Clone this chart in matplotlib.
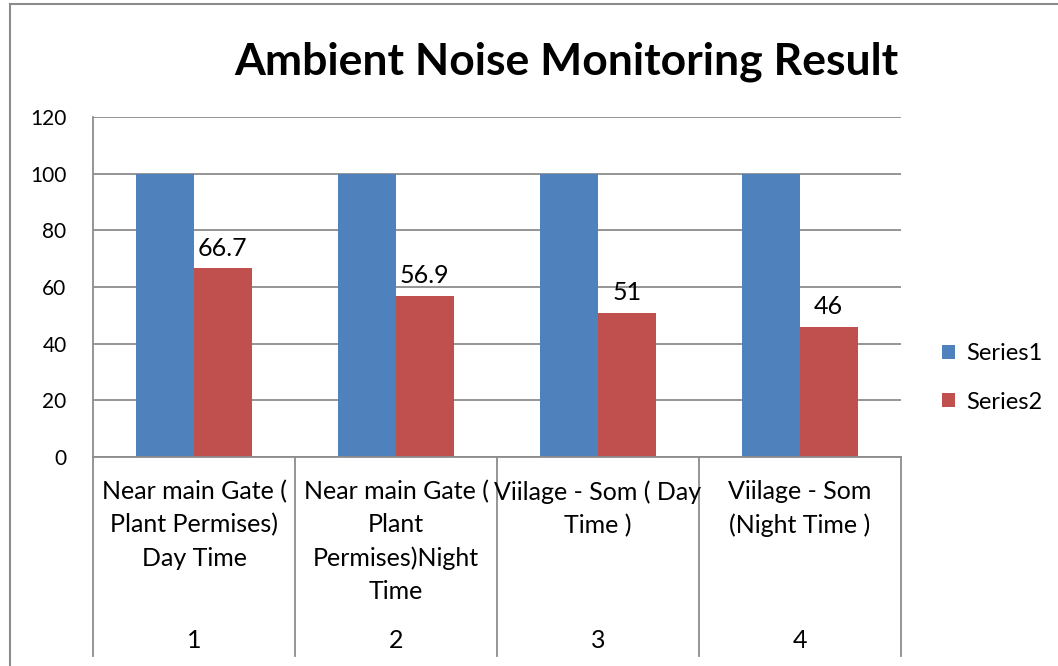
import numpy as np
import matplotlib.pyplot as plt
from matplotlib.lines import Line2D

plt.rcParams['font.family'] = ['Lato', 'DejaVu Sans']

categories = ["Near main Gate (\nPlant Permises)\nDay Time",
              "Near main Gate (\nPlant\nPermises)Night\nTime",
              "Viilage - Som ( Day\nTime )",
              "Viilage - Som\n(Night Time )"]
numbers = ["1", "2", "3", "4"]
series1 = [100, 100, 100, 100]
series2 = [66.7, 56.9, 51, 46]
series2_labels = ["66.7", "56.9", "51", "46"]

blue = '#4F81BD'
red = '#C0504D'
grey = '#8C8C8C'

W, H = 1058, 666
fig = plt.figure(figsize=(W / 100, H / 100), dpi=100)
ax = fig.add_axes([93 / W, 1 - 457 / H, (901 - 93) / W, (457 - 117) / H])

x = np.arange(len(categories))
bw = 0.285
b1 = ax.bar(x - bw / 2, series1, bw, color=blue, zorder=2)
b2 = ax.bar(x + bw / 2, series2, bw, color=red, zorder=2)
for rect, lab in zip(b2, series2_labels):
    ax.text(rect.get_x() + rect.get_width() / 2, rect.get_height() + 3, lab,
            ha='center', va='bottom', fontsize=18)

ax.set_xlim(-0.5, len(categories) - 0.5)
ax.set_ylim(0, 120)
ax.set_yticks(range(0, 121, 20))
ax.yaxis.grid(True, color=grey, lw=1.3, zorder=0)
ax.set_xticks([])
ax.tick_params(axis='y', length=0, pad=19, labelsize=15)
for s in ['top', 'right']:
    ax.spines[s].set_visible(False)
for s in ['left', 'bottom']:
    ax.spines[s].set_color(grey)
    ax.spines[s].set_linewidth(1.3)

# category table below the axis
depth = -(656 - 457) / (457 - 117)
trans = ax.get_xaxis_transform()
for b in np.arange(-0.5, len(categories), 1.0):
    ax.add_line(Line2D([b, b], [0, depth], transform=trans, color=grey,
                       lw=1.3, clip_on=False))
for i, (cat, num) in enumerate(zip(categories, numbers)):
    ax.text(i, -(480 - 457) / 340, cat, transform=trans, ha='center', va='top',
            fontsize=18, linespacing=1.52)
    ax.text(i, -(640 - 457) / 340, num, transform=trans, ha='center',
            va='center', fontsize=18)

ax.legend([b1, b2], ['Series1', 'Series2'], loc='center left',
          bbox_to_anchor=(921 / W, 1 - 378 / H), bbox_transform=fig.transFigure,
          frameon=False, fontsize=17, handlelength=0.55, handleheight=0.55,
          handletextpad=0.45, labelspacing=1.15)

fig.text(566 / W, 1 - 62 / H, 'Ambient Noise Monitoring Result',
         ha='center', va='center', fontsize=32, fontweight='bold')

# outer chart frame (left and top edges)
fig.add_artist(Line2D([10 / W, 10 / W], [0, 1 - 4 / H], color=grey, lw=1.5))
fig.add_artist(Line2D([10 / W, 1], [1 - 4 / H, 1 - 4 / H], color=grey, lw=1.5))

fig.savefig('out.png', dpi=100)
